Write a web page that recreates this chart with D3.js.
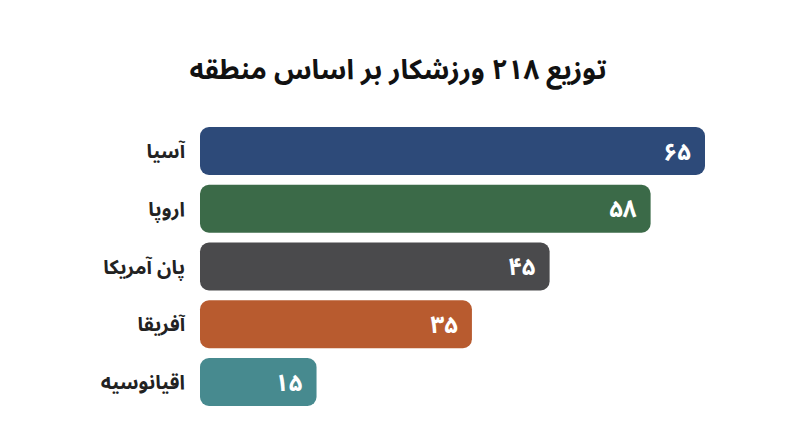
<!DOCTYPE html>
<html lang="fa">
<head>
<meta charset="utf-8">
<script src="https://cdn.jsdelivr.net/npm/d3@7"></script>
<style>
  html, body { margin: 0; padding: 0; background: #ffffff; }
  svg { display: block; font-family: "Noto Sans Arabic", "DejaVu Sans", "Noto Sans", sans-serif; }
</style>
</head>
<body>
<svg id="chart" width="800" height="447"></svg>
<script>
const titleText = "توزیع ۲۱۸ ورزشکار بر اساس منطقه";
const categories = ["آسیا", "اروپا", "پان آمریکا", "آفریقا", "اقیانوسیه"];
const values = [65, 58, 45, 35, 15];
const colors = ["#2d4a79", "#3b6a48", "#4a4a4c", "#b85b2f", "#478a8f"];

const toFa = n => String(n).replace(/\d/g, d => "۰۱۲۳۴۵۶۷۸۹"[+d]);

const svg = d3.select("#chart");
const W = 800, H = 447;

svg.append("rect").attr("width", W).attr("height", H).attr("fill", "#ffffff");

svg.append("text")
  .attr("x", 398).attr("y", 79)
  .attr("text-anchor", "middle")
  .attr("font-size", 27.5).attr("font-weight", 700)
  .attr("fill", "#111111")
  .text(titleText);

const x = d3.scaleLinear().domain([0, 65]).range([200, 705]);
const y = d3.scaleBand().domain(categories).range([127, 406]).paddingInner(0.169).paddingOuter(0);

const data = categories.map((c, i) => ({ c, v: values[i], col: colors[i] }));

const g = svg.append("g");
g.selectAll("rect.bar").data(data).join("rect")
  .attr("class", "bar")
  .attr("x", x(0))
  .attr("y", d => y(d.c))
  .attr("width", d => x(d.v) - x(0))
  .attr("height", y.bandwidth())
  .attr("rx", 9).attr("ry", 9)
  .attr("fill", d => d.col);

g.selectAll("text.val").data(data).join("text")
  .attr("class", "val")
  .attr("x", d => x(d.v) - 14)
  .attr("y", d => y(d.c) + y.bandwidth() / 2)
  .attr("dy", "0.36em")
  .attr("text-anchor", "end")
  .attr("font-size", 24).attr("font-weight", 700)
  .attr("fill", "#ffffff")
  .text(d => toFa(d.v));

g.selectAll("text.lab").data(data).join("text")
  .attr("class", "lab")
  .attr("x", 185)
  .attr("y", d => y(d.c) + y.bandwidth() / 2)
  .attr("dy", "0.36em")
  .attr("text-anchor", "end")
  .attr("font-size", 19.8).attr("font-weight", 700)
  .attr("fill", "#222222")
  .text(d => d.c);
</script>
</body>
</html>
